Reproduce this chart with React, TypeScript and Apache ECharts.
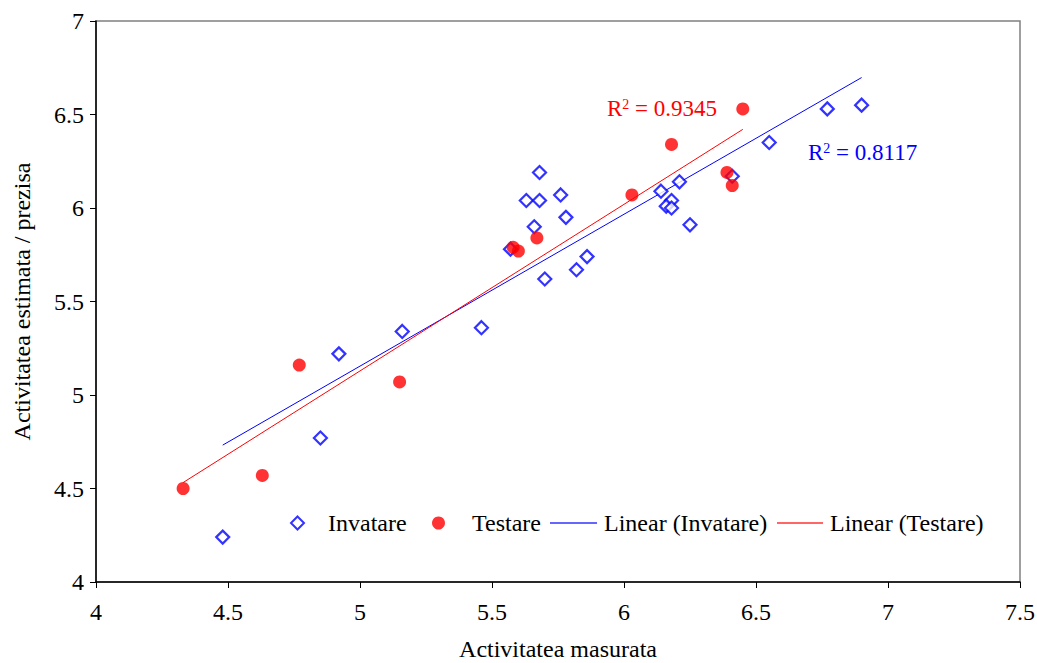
import React, { useEffect, useRef } from "react";
import * as echarts from "echarts";

const invatareX = [4.48, 4.85, 4.92, 5.16, 5.46, 5.57, 5.66, 5.63, 5.68, 5.68, 5.76, 5.78, 5.70, 5.82, 5.86, 6.14, 6.18, 6.16, 6.18, 6.21, 6.25, 6.41, 6.55, 6.77, 6.90];
const invatareY = [4.24, 4.77, 5.22, 5.34, 5.36, 5.78, 5.90, 6.04, 6.04, 6.19, 6.07, 5.95, 5.62, 5.67, 5.74, 6.09, 6.04, 6.01, 6.00, 6.14, 5.91, 6.17, 6.35, 6.53, 6.55];
const testareX = [4.33, 4.63, 4.77, 5.15, 5.58, 5.60, 5.67, 6.03, 6.18, 6.39, 6.41, 6.45];
const testareY = [4.50, 4.57, 5.16, 5.07, 5.79, 5.77, 5.84, 6.07, 6.34, 6.19, 6.12, 6.53];
const r2Invatare = "0.8117";
const r2Testare = "0.9345";

function fit(xs: number[], ys: number[]) {
  const n = xs.length;
  const mx = xs.reduce((a, b) => a + b, 0) / n;
  const my = ys.reduce((a, b) => a + b, 0) / n;
  let sxy = 0, sxx = 0;
  for (let i = 0; i < n; i++) {
    sxy += (xs[i] - mx) * (ys[i] - my);
    sxx += (xs[i] - mx) * (xs[i] - mx);
  }
  const b = sxy / sxx;
  const a = my - b * mx;
  const x0 = Math.min(...xs);
  const x1 = Math.max(...xs);
  return [[x0, a + b * x0], [x1, a + b * x1]];
}

const FONT = "'Liberation Serif', 'Times New Roman', serif";
const FS = 24;

export default function App() {
  const ref = useRef<HTMLDivElement>(null);
  useEffect(() => {
    if (!ref.current) return;
    const chart = echarts.init(ref.current, undefined, { renderer: "svg" });
    const inv = invatareX.map((x, i) => [x, invatareY[i]]);
    const tes = testareX.map((x, i) => [x, testareY[i]]);
    const legendBase = {
      top: 506,
      orient: "horizontal" as const,
      textStyle: { fontFamily: FONT, fontSize: FS, color: "#000" },
    };
    chart.setOption({
      animation: false,
      backgroundColor: "#fff",
      grid: {
        left: 96,
        right: 17,
        top: 21,
        bottom: 81,
        show: true,
        borderColor: "#808080",
        borderWidth: 1.5,
        outerBoundsMode: "none",
        containLabel: false,
      },
      xAxis: {
        type: "value",
        min: 4,
        max: 7.5,
        interval: 0.5,
        name: "Activitatea masurata",
        nameLocation: "middle",
        nameGap: 55,
        nameTextStyle: { fontFamily: FONT, fontSize: FS, color: "#000" },
        axisLine: { show: true, lineStyle: { color: "#000", width: 1.5 } },
        axisTick: { show: true, length: 6, lineStyle: { color: "#000" } },
        axisLabel: { fontFamily: FONT, fontSize: FS, color: "#000", margin: 18 },
        splitLine: { show: false },
      },
      yAxis: {
        type: "value",
        min: 4,
        max: 7,
        interval: 0.5,
        name: "Activitatea estimata / prezisa",
        nameLocation: "middle",
        nameGap: 62,
        nameTextStyle: { fontFamily: FONT, fontSize: FS, color: "#000" },
        axisLine: { show: true, lineStyle: { color: "#000", width: 1.5 } },
        axisTick: { show: true, length: 6, lineStyle: { color: "#000" } },
        axisLabel: { fontFamily: FONT, fontSize: FS, color: "#000", margin: 12 },
        splitLine: { show: false },
      },
      legend: [
        { ...legendBase, left: 285, itemWidth: 13, itemHeight: 13, data: [{ name: "Invatare", textStyle: { padding: [0, 0, 0, 19] } }] },
        { ...legendBase, left: 427, itemWidth: 13, itemHeight: 13, data: [{ name: "Testare", textStyle: { padding: [0, 0, 0, 22] } }] },
        { ...legendBase, left: 545, itemWidth: 47, itemHeight: 2, data: [{ name: "Linear (Invatare)", icon: "rect", textStyle: { padding: [0, 0, 0, 2] } }] },
        { ...legendBase, left: 772, itemWidth: 46, itemHeight: 2, data: [{ name: "Linear (Testare)", icon: "rect", textStyle: { padding: [0, 0, 0, 2] } }] },
      ],
      series: [
        {
          name: "Linear (Invatare)",
          type: "line",
          data: fit(invatareX, invatareY),
          symbol: "none",
          lineStyle: { color: "#0000FF", width: 1 },
          itemStyle: { color: "#6666FF" },
          z: 1,
        },
        {
          name: "Linear (Testare)",
          type: "line",
          data: fit(testareX, testareY),
          symbol: "none",
          lineStyle: { color: "#FF0000", width: 1 },
          itemStyle: { color: "#FF6666" },
          z: 1,
        },
        {
          name: "Invatare",
          type: "scatter",
          data: inv,
          symbol: "diamond",
          symbolSize: 13,
          itemStyle: { color: "#fff", borderColor: "#0000FF", borderWidth: 2.2 },
          z: 3,
        },
        {
          name: "Testare",
          type: "scatter",
          data: tes,
          symbol: "circle",
          symbolSize: 13,
          itemStyle: { color: "#FF0000" },
          z: 4,
        },
      ],
      graphic: [
        {
          type: "text",
          left: 607,
          top: 97,
          style: {
            text: "R{sup|2} = " + r2Testare,
            fill: "#FF0000",
            fontFamily: FONT,
            fontSize: 23,
            rich: { sup: { fontSize: 14, verticalAlign: "top", fill: "#FF0000", fontFamily: FONT, padding: [0, 0, 9, 0] } },
          },
        },
        {
          type: "text",
          left: 808,
          top: 141,
          style: {
            text: "R{sup|2} = " + r2Invatare,
            fill: "#0000FF",
            fontFamily: FONT,
            fontSize: 23,
            rich: { sup: { fontSize: 14, verticalAlign: "top", fill: "#0000FF", fontFamily: FONT, padding: [0, 0, 9, 0] } },
          },
        },
      ],
    });
    return () => chart.dispose();
  }, []);
  return <div ref={ref} style={{ position: "fixed", left: 0, top: 0, width: 1037, height: 663 }} />;
}
